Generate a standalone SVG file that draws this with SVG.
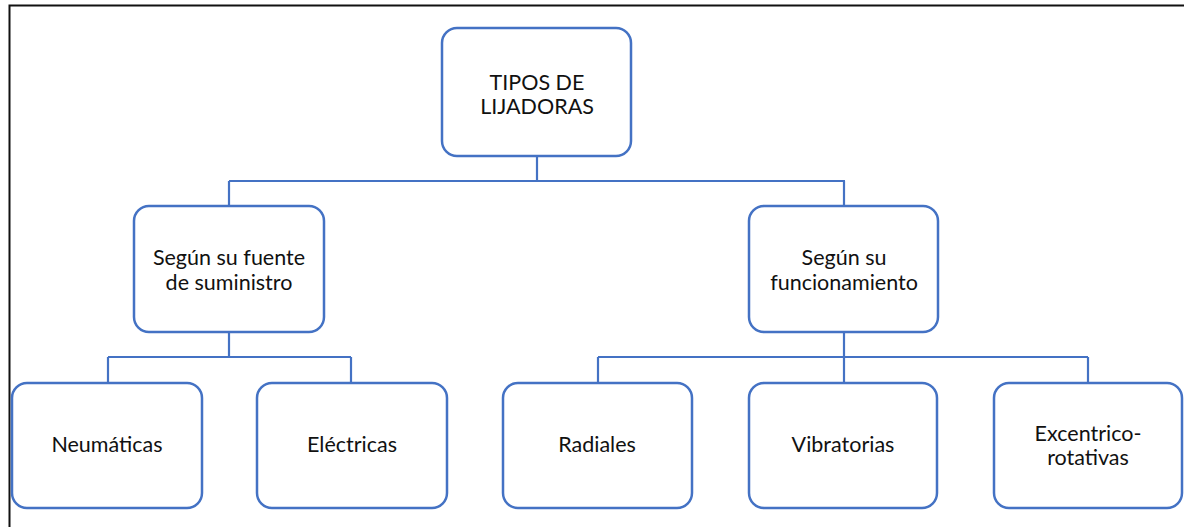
<svg xmlns="http://www.w3.org/2000/svg" width="1184" height="527" viewBox="0 0 1184 527">
<style>
.box{fill:#fff;stroke:#4472C4;stroke-width:2.5}
.con{fill:none;stroke:#4472C4;stroke-width:2.2}
text{font-family:Lato,"Liberation Sans",sans-serif;font-size:21.5px;fill:#111;text-anchor:middle}
</style>
<rect width="1184" height="527" fill="#fff"/>
<path d="M9.5 527 V5.5 H1184" fill="none" stroke="#111" stroke-width="2"/>
<g id="connectors">
<path class="con" d="M537 156 V181 M229 181 H845 M229 181 V205 M844 181 V206"/>
<path class="con" d="M229 332 V357 M108 357 H351 M108 357 V383 M351 357 V383"/>
<path class="con" d="M844 332 V383 M598 357 H1088 M598 357 V383 M1088 357 V383"/>
</g>
<g id="root"><rect class="box" x="442" y="28" width="189" height="128" rx="15"/><text x="537" y="90">TIPOS DE</text><text x="537" y="114">LIJADORAS</text></g>
<g id="fuente"><rect class="box" x="134" y="206" width="190" height="126" rx="15"/><text x="229" y="265">Según su fuente</text><text x="229" y="290">de suministro</text></g>
<g id="funcionamiento"><rect class="box" x="749" y="206" width="189" height="126" rx="15"/><text x="844" y="265">Según su</text><text x="844" y="290">funcionamiento</text></g>
<g id="neumaticas"><rect class="box" x="12" y="383" width="190" height="125" rx="15"/><text x="107" y="452">Neumáticas</text></g>
<g id="electricas"><rect class="box" x="257" y="383" width="190" height="125" rx="15"/><text x="352" y="452">Eléctricas</text></g>
<g id="radiales"><rect class="box" x="503" y="383" width="189" height="125" rx="15"/><text x="597" y="452">Radiales</text></g>
<g id="vibratorias"><rect class="box" x="749" y="383" width="188" height="125" rx="15"/><text x="843" y="452">Vibratorias</text></g>
<g id="excentrico"><rect class="box" x="994" y="383" width="188" height="125" rx="15"/><text x="1088" y="441">Excentrico-</text><text x="1088" y="465">rotativas</text></g>
</svg>
